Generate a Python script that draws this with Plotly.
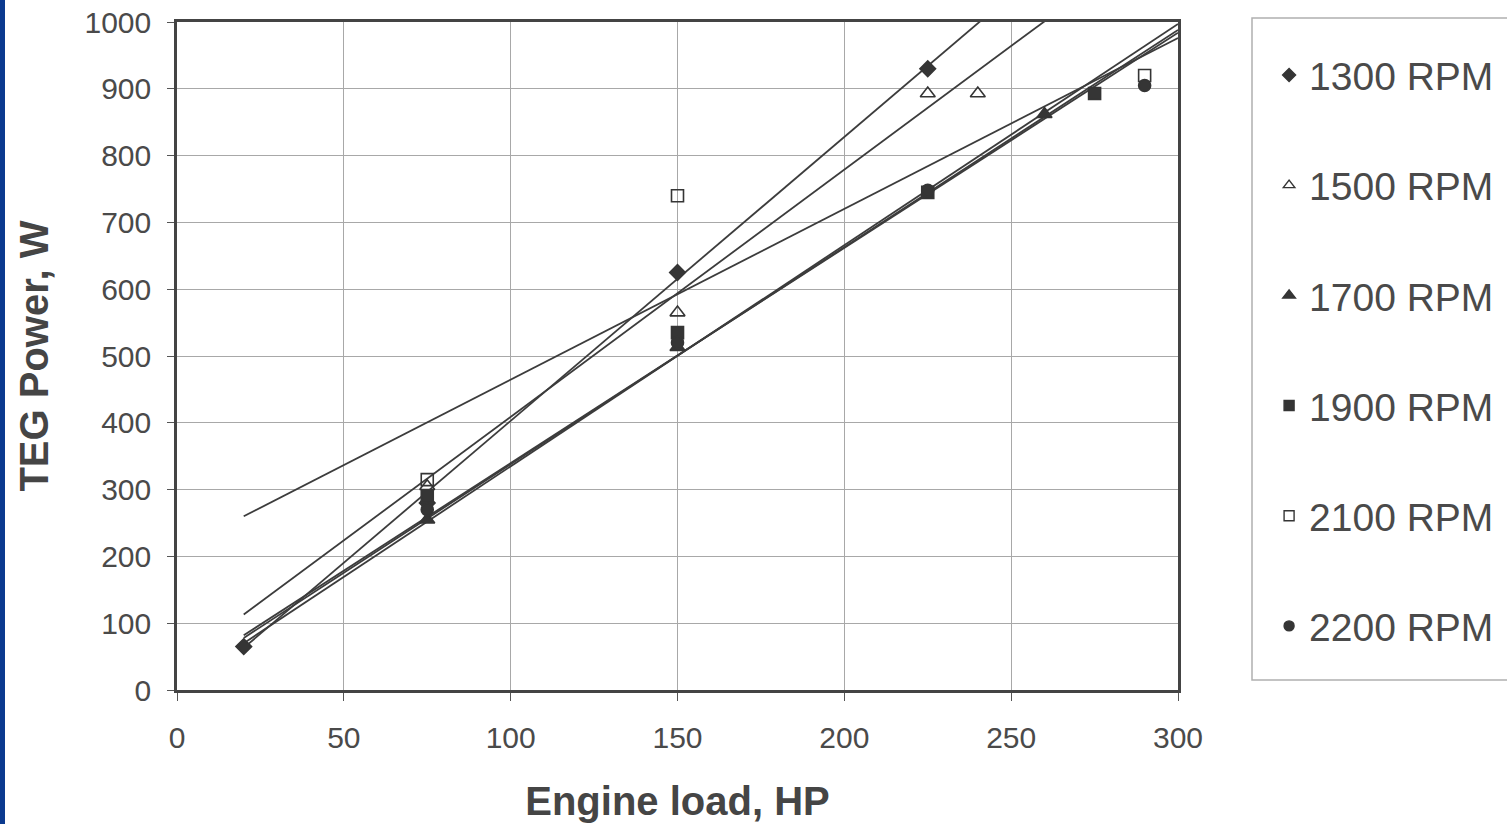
import plotly.graph_objects as go

# ---- data ----
series_names = ["1300 RPM", "1500 RPM", "1700 RPM", "1900 RPM", "2100 RPM", "2200 RPM"]

load_1300 = [20, 75, 150, 225]
power_1300 = [65, 280, 625, 930]

load_1500 = [75, 150, 225, 240]
power_1500 = [305, 565, 893, 893]

load_1700 = [75, 150, 260]
power_1700 = [255, 513, 862]

load_1900 = [75, 150, 225, 275]
power_1900 = [290, 535, 745, 893]

load_2100 = [75, 150, 290]
power_2100 = [315, 740, 920]

load_2200 = [75, 150, 225, 290]
power_2200 = [270, 520, 748, 905]

# linear trendlines, read as their values at the ends of the drawn span
trend_load = [20, 300]
trend_1300 = [63, 1253]
trend_1500 = [113, 1149]
trend_1700 = [70, 997]
trend_1900 = [78, 988]
trend_2100 = [260, 976]
trend_2200 = [82, 984]

x_ticks = [0, 50, 100, 150, 200, 250, 300]
y_ticks = [0, 100, 200, 300, 400, 500, 600, 700, 800, 900, 1000]

loads = [load_1300, load_1500, load_1700, load_1900, load_2100, load_2200]
powers = [power_1300, power_1500, power_1700, power_1900, power_2100, power_2200]
trends = [trend_1300, trend_1500, trend_1700, trend_1900, trend_2100, trend_2200]

ink = "#353535"
symbols = ["diamond", "triangle-up-open", "triangle-up", "square", "square-open", "circle"]
sizes = [12, 13, 13, 12, 12, 12]
legend_sizes = [10, 10, 11, 10, 10, 10]

fig = go.Figure()

for name, tr in zip(series_names, trends):
    fig.add_trace(go.Scatter(
        x=trend_load, y=tr, mode="lines", showlegend=False, hoverinfo="skip",
        line=dict(color="#3c3c3c", width=1.8), name=name + " trend"))

for i, name in enumerate(series_names):
    fig.add_trace(go.Scatter(
        x=loads[i], y=powers[i], mode="markers", name=name,
        legendgroup=name, showlegend=False,
        marker=dict(symbol=symbols[i], size=sizes[i], color=ink,
                    line=dict(color=ink, width=1.6)),
        cliponaxis=False))
    # legend entry with the smaller legend symbol
    fig.add_trace(go.Scatter(
        x=[None], y=[None], mode="markers", name=name,
        legendgroup=name, showlegend=True, hoverinfo="skip",
        marker=dict(symbol=symbols[i], size=legend_sizes[i], color=ink,
                    line=dict(color=ink, width=1.4))))

font_family = "Liberation Sans, Arial, sans-serif"

fig.update_layout(
    width=1507, height=824,
    margin=dict(l=177, r=329, t=22, b=134, autoexpand=False),
    paper_bgcolor="white", plot_bgcolor="white",
    font=dict(family=font_family, color="#4a4a4a"),
    showlegend=True,
    legend=dict(x=1.091, xanchor="left", y=0.9685, yanchor="top",
                font=dict(size=39, color="#4a4a4a", family=font_family),
                traceorder="grouped", tracegroupgap=56.5,
                itemsizing="trace", itemwidth=30,
                bgcolor="rgba(0,0,0,0)", borderwidth=0),
    xaxis=dict(range=[0, 300], tickvals=x_ticks, ticktext=[str(v) for v in x_ticks],
               showgrid=True, gridcolor="#a8a8a8", gridwidth=1,
               showline=True, linecolor="#444444", linewidth=2.5, mirror=True,
               ticks="outside", ticklen=8, tickcolor="#555555", tickwidth=1,
               ticklabelstandoff=11, automargin=False,
               tickfont=dict(size=30, color="#4a4a4a"),
               zeroline=False,
               title=dict(text="<b>Engine load, HP</b>", standoff=35,
                          font=dict(size=40, color="#454545"))),
    yaxis=dict(range=[0, 1000], tickvals=y_ticks, ticktext=[str(v) for v in y_ticks],
               showgrid=True, gridcolor="#a8a8a8", gridwidth=1,
               showline=True, linecolor="#444444", linewidth=2.5, mirror=True,
               ticks="outside", ticklen=7, tickcolor="#555555", tickwidth=1,
               ticklabelstandoff=10, automargin=False,
               tickfont=dict(size=30, color="#4a4a4a"),
               zeroline=False,
               title=dict(text="<b>TEG Power, W</b>", standoff=24,
                          font=dict(size=40, color="#454545"))),
)

# legend frame and the blue page edge
plot_w = 1507 - 177 - 329
plot_h = 824 - 22 - 134
def px_x(p):
    return (p - 177) / plot_w
def px_y(p):
    return (824 - 134 - p) / plot_h

fig.add_shape(type="rect", xref="paper", yref="paper",
              x0=px_x(1252), x1=px_x(1515), y0=px_y(680), y1=px_y(18),
              line=dict(color="#b0b0b0", width=1.5), fillcolor="rgba(0,0,0,0)")
fig.add_shape(type="rect", xref="paper", yref="paper",
              x0=px_x(-2), x1=px_x(5), y0=px_y(830), y1=px_y(-5),
              line=dict(width=0), fillcolor="#0b3a8f")

fig.write_html("out.html", config={"displayModeBar": False},
               post_script="document.body.style.margin='0px';document.body.style.overflow='hidden';")
